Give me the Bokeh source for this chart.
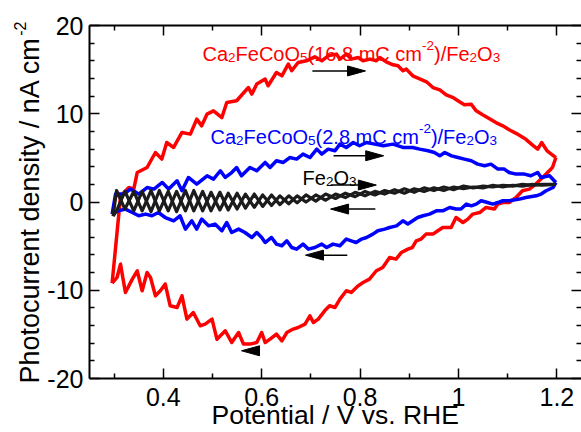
import math
from bokeh.plotting import figure
from bokeh.models import LinearAxis, FixedTicker, Label, Range1d, Title
from bokeh.embed import file_html
from bokeh.resources import INLINE

# ---------------- data ----------------
red_fwd_x = [0.296, 0.313, 0.320, 0.330, 0.340, 0.347, 0.367, 0.384, 0.397, 0.407, 0.421, 0.438, 0.455, 0.468, 0.478,
             0.489, 0.502, 0.519, 0.529, 0.549, 0.573, 0.580, 0.590, 0.607, 0.613, 0.630, 0.641, 0.654, 0.661, 0.674,
             0.691, 0.708, 0.722, 0.735, 0.752, 0.759, 0.772, 0.782, 0.796, 0.806, 0.820, 0.833, 0.840, 0.853, 0.867,
             0.877, 0.887, 0.894, 0.907, 0.921, 0.935, 0.948, 0.962, 0.975, 0.988, 1.002, 1.012, 1.026, 1.036, 1.049,
             1.063, 1.077, 1.090, 1.103, 1.117, 1.137, 1.150, 1.161, 1.169, 1.180, 1.198]
red_fwd_y = [-9.19, 0.59, 1.08, 1.64, 1.46, 3.34, 3.91, 5.61, 4.86, 6.74, 6.18, 7.88, 7.69, 9.39, 8.63,
             9.96, 10.33, 9.57, 11.27, 11.47, 12.97, 12.23, 13.36, 13.93, 13.17, 14.67, 14.30, 15.63, 14.87, 15.81,
             16.00, 16.45, 16.00, 16.57, 16.76, 16.19, 16.76, 16.19, 16.37, 16.00, 16.19, 16.00, 16.37, 15.89, 15.55,
             15.43, 14.87, 15.06, 14.30, 13.96, 13.62, 12.97, 12.71, 12.15, 11.86, 11.35, 11.01, 11.07, 10.33, 9.88,
             9.43, 8.97, 8.63, 8.18, 7.78, 7.10, 6.48, 5.99, 6.74, 5.80, 5.04]
red_rev_x = [1.198, 1.191, 1.181, 1.171, 1.157, 1.144, 1.130, 1.117, 1.103, 1.090, 1.080, 1.073, 1.056, 1.043, 1.029,
             1.019, 1.009, 0.995, 0.985, 0.968, 0.958, 0.948, 0.934, 0.924, 0.914, 0.906, 0.897, 0.884, 0.873, 0.860,
             0.846, 0.833, 0.819, 0.806, 0.796, 0.782, 0.772, 0.759, 0.749, 0.738, 0.728, 0.715, 0.705, 0.698, 0.688,
             0.674, 0.664, 0.651, 0.641, 0.630, 0.617, 0.607, 0.600, 0.590, 0.576, 0.563, 0.553, 0.539, 0.526, 0.509,
             0.499, 0.485, 0.475, 0.461, 0.448, 0.438, 0.428, 0.414, 0.404, 0.394, 0.384, 0.374, 0.367, 0.357, 0.347,
             0.337, 0.323, 0.313, 0.306, 0.296]
red_rev_y = [5.04, 3.91, 3.34, 2.78, 2.03, 1.46, 1.27, 0.51, -0.06, -0.06, -0.24, -0.80, -0.62, -1.19, -1.37,
             -1.94, -2.32, -1.76, -2.89, -2.89, -3.26, -3.64, -3.64, -4.20, -4.40, -5.16, -5.34, -5.72, -6.47, -6.29,
             -7.42, -7.79, -8.74, -9.12, -9.50, -10.25, -10.06, -11.00, -11.95, -11.76, -12.33, -13.27, -13.65, -12.90, -13.84,
             -14.22, -14.40, -14.79, -15.73, -14.97, -15.54, -15.92, -14.79, -15.92, -16.10, -16.10, -14.79, -15.92, -14.59, -15.54,
             -13.27, -13.84, -14.03, -12.52, -13.27, -10.63, -11.95, -11.76, -9.30, -10.06, -10.63, -8.55, -7.99, -10.06, -7.80,
             -8.74, -10.25, -7.04, -8.55, -9.19]

blue_fwd_x = [0.296, 0.303, 0.320, 0.333, 0.350, 0.367, 0.381, 0.398, 0.411, 0.428, 0.438, 0.451, 0.468, 0.489, 0.502,
              0.516, 0.526, 0.539, 0.549, 0.559, 0.576, 0.590, 0.607, 0.617, 0.630, 0.644, 0.657, 0.671, 0.684, 0.698,
              0.712, 0.722, 0.735, 0.749, 0.759, 0.772, 0.786, 0.799, 0.813, 0.830, 0.847, 0.867, 0.887, 0.907, 0.921,
              0.938, 0.951, 0.962, 0.972, 0.986, 0.999, 1.012, 1.026, 1.039, 1.053, 1.066, 1.080, 1.093, 1.103, 1.117,
              1.134, 1.147, 1.161, 1.168, 1.185, 1.198]
blue_fwd_y = [-1.37, 0.90, 0.90, 1.46, 0.90, 1.64, 1.46, 2.21, 1.46, 2.40, 1.27, 2.78, 2.03, 2.97, 2.59,
              3.54, 2.78, 3.34, 3.91, 2.97, 3.91, 3.54, 4.48, 3.91, 4.67, 4.48, 5.04, 4.86, 5.43, 5.04,
              5.99, 5.43, 5.99, 5.80, 6.56, 6.18, 6.74, 6.37, 6.74, 6.56, 6.37, 6.56, 6.18, 6.18, 5.99,
              5.80, 5.61, 5.23, 5.61, 5.23, 5.04, 4.86, 4.67, 4.29, 4.10, 4.29, 3.73, 3.73, 3.34, 3.16,
              3.16, 2.97, 3.34, 2.78, 2.97, 2.21]
blue_rev_x = [1.198, 1.192, 1.178, 1.168, 1.158, 1.137, 1.124, 1.103, 1.090, 1.080, 1.070, 1.059, 1.046, 1.036, 1.026,
              1.016, 1.005, 0.995, 0.982, 0.968, 0.955, 0.941, 0.928, 0.917, 0.907, 0.897, 0.887, 0.874, 0.860, 0.850,
              0.836, 0.826, 0.813, 0.803, 0.792, 0.782, 0.772, 0.759, 0.745, 0.732, 0.722, 0.708, 0.695, 0.684, 0.671,
              0.661, 0.651, 0.641, 0.630, 0.620, 0.607, 0.600, 0.590, 0.580, 0.566, 0.553, 0.539, 0.529, 0.519, 0.505,
              0.492, 0.478, 0.468, 0.458, 0.445, 0.434, 0.421, 0.404, 0.390, 0.377, 0.364, 0.350, 0.337, 0.323, 0.309,
              0.299, 0.296]
blue_rev_y = [2.21, 1.64, 1.27, 0.90, 0.70, 0.51, 0.33, 0.14, 0.14, -0.06, -0.24, -0.06, 0.14, -0.24, -0.43,
              -0.24, -0.80, -0.80, -0.62, -1.00, -1.00, -1.37, -1.56, -1.76, -2.13, -2.50, -2.13, -2.70, -2.89, -3.07,
              -3.26, -3.64, -4.02, -4.20, -4.59, -4.40, -4.20, -4.96, -4.77, -5.16, -4.77, -5.16, -5.34, -4.77, -5.34,
              -5.16, -4.40, -4.96, -4.77, -4.02, -4.59, -4.02, -3.46, -4.02, -3.46, -3.07, -3.46, -2.32, -3.26, -2.50,
              -2.70, -1.94, -3.07, -2.13, -3.07, -1.56, -2.13, -1.76, -1.19, -1.56, -1.37, -1.56, -1.19, -0.80, -1.00,
              -1.19, -1.37]

black_x = [0.298, 0.305, 0.322, 0.340, 0.357, 0.375, 0.392, 0.410, 0.427, 0.445, 0.462, 0.480, 0.497, 0.515, 0.532,
           0.550, 0.567, 0.585, 0.602, 0.620, 0.637, 0.655, 0.672, 0.690, 0.710, 0.730, 0.750, 0.770, 0.790, 0.810,
           0.830, 0.850, 0.870, 0.890, 0.910, 0.930, 0.950, 0.970, 0.990, 1.010, 1.030, 1.050, 1.070, 1.090, 1.110,
           1.130, 1.150, 1.170, 1.198]
black_fwd_y = [-1.6, 1.3, -0.8, 1.2, -1.0, 1.3, -1.0, 1.2, -1.1, 1.3, -1.0, 1.2, -1.0, 1.1, -0.9,
               1.0, -0.7, 0.9, -0.5, 0.8, -0.3, 0.7, -0.1, 0.8, 0.1, 0.9, 0.4, 1.0, 0.6, 1.2,
               0.8, 1.3, 1.0, 1.5, 1.1, 1.6, 1.3, 1.7, 1.4, 1.8, 1.6, 1.8, 1.7, 1.9, 1.8,
               2.0, 1.9, 2.0, 2.0]
black_rev_y = [-1.6, -1.0, 1.2, -1.0, 1.2, -1.1, 1.3, -1.0, 1.2, -1.0, 1.3, -1.0, 1.1, -0.9, 1.0,
               -0.8, 0.9, -0.6, 0.8, -0.4, 0.7, -0.2, 0.7, 0.0, 0.8, 0.2, 0.9, 0.5, 1.1, 0.7,
               1.2, 0.9, 1.4, 1.0, 1.5, 1.2, 1.6, 1.3, 1.7, 1.5, 1.7, 1.6, 1.9, 1.7, 1.9,
               1.8, 2.0, 1.9, 2.0]

# scan-direction arrows: tail x, tip x, y
arrow_tail_x = [0.703, 0.746, 0.740, 0.831, 0.774, 0.595]
arrow_tip_x = [0.811, 0.848, 0.833, 0.740, 0.689, 0.559]
arrow_y = [14.85, 5.24, 1.92, -0.80, -6.02, -16.86]

x_major = [0.4, 0.6, 0.8, 1.0, 1.2]
x_minor = [0.3, 0.5, 0.7, 0.9, 1.1]
y_major = [-20, -10, 0, 10, 20]
y_minor = [-18, -16, -14, -12, -8, -6, -4, -2, 2, 4, 6, 8, 12, 14, 16, 18]
x_labels = {0.4: "0.4", 0.6: "0.6", 0.8: "0.8", 1.0: "1", 1.2: "1.2"}
y_labels = {-20: "-20", -10: "-10", 0: "0", 10: "10", 20: "20"}

# label anchors (data coords)
red_lab = (0.4797, 16.72)
blue_lab = (0.496, 7.39)
fe_lab = (0.683, 2.67)

X_TITLE = "Potential / V vs. RHE"
Y_TITLE = "Photocurrent density / nA cm"
Y_TITLE_SUP = "-2"

# ---------------- figure ----------------
FONT = "Liberation Sans"
W = {' ': 278, '(': 333, ')': 333, '-': 333, '.': 278, '/': 278, 'A': 667, 'C': 722, 'E': 667, 'F': 611,
     'H': 722, 'O': 778, 'P': 667, 'R': 722, 'V': 667, 'a': 556, 'c': 500, 'd': 556, 'e': 556, 'h': 556,
     'i': 222, 'l': 222, 'm': 833, 'n': 556, 'o': 556, 'r': 333, 's': 500, 't': 278, 'u': 556, 'v': 500,
     'y': 500}
for _d in "0123456789":
    W[_d] = 556


def tw(s, size):
    return sum(W.get(c, 556) for c in s) * size / 1000.0


p = figure(width=581, height=432, x_range=Range1d(0.25, 1.25), y_range=Range1d(-20, 20),
           output_backend="svg", toolbar_location=None,
           min_border_left=89, min_border_right=0, min_border_top=25, min_border_bottom=54)
p.grid.visible = False
p.outline_line_color = None
p.background_fill_color = "white"
p.border_fill_color = "white"


def style_axis(ax, major, minor, labels=None):
    ax.ticker = FixedTicker(ticks=major, minor_ticks=minor)
    ax.axis_line_width = 2
    ax.axis_line_color = "black"
    ax.major_tick_in = 10
    ax.major_tick_out = 0
    ax.minor_tick_in = 5
    ax.minor_tick_out = 0
    ax.major_tick_line_width = 1.5
    ax.minor_tick_line_width = 1.5
    ax.major_tick_line_color = "black"
    ax.minor_tick_line_color = "black"
    ax.major_label_text_font = FONT
    ax.major_label_text_color = "black"
    if labels is not None:
        ax.major_label_text_font_size = "25px"
        ax.major_label_overrides = labels
    else:
        ax.major_label_text_font_size = "1px"
        ax.major_label_standoff = 0
        ax.major_label_overrides = {t: "" for t in major}


style_axis(p.xaxis[0], x_major, x_minor, x_labels)
p.xaxis[0].major_label_standoff = 9

style_axis(p.yaxis[0], y_major, y_minor, y_labels)
p.yaxis[0].major_label_standoff = 6

top = LinearAxis()
style_axis(top, x_major, x_minor)
p.add_layout(top, "above")
right = LinearAxis()
style_axis(right, y_major, y_minor)
right.axis_line_color = None
p.add_layout(right, "right")

# x title below the tick labels (kept fully inside the canvas)
t_x = Title(text=X_TITLE, align="left", vertical_align="bottom", offset=122, standoff=-22, text_font=FONT,
            text_font_size="26.5px", text_font_style="normal", text_color="black")
p.add_layout(t_x, "below")

# y title (main text + raised "-2") in the left side panel
main_size = 27
t_main = Title(text=Y_TITLE, align="left", offset=-5, standoff=0, text_font=FONT,
               text_font_size=f"{main_size}px", text_font_style="normal", text_color="black")
p.add_layout(t_main, "left")
t_sup = Title(text=Y_TITLE_SUP, align="left", offset=-5 + tw(Y_TITLE, main_size) + 1, standoff=-26,
              text_font=FONT, text_font_size="16px", text_font_style="normal", text_color="black")
p.add_layout(t_sup, "left")

# curves
p.line(red_fwd_x, red_fwd_y, line_color="#ff0000", line_width=3.5, line_join="round")
p.line(red_rev_x, red_rev_y, line_color="#ff0000", line_width=3.5, line_join="round")
p.line(blue_fwd_x, blue_fwd_y, line_color="#0000ff", line_width=3.5, line_join="round")
p.line(blue_rev_x, blue_rev_y, line_color="#0000ff", line_width=3.5, line_join="round")
p.line(black_x, black_fwd_y, line_color="#1c1c1c", line_width=3.2, line_join="round")
p.line(black_x, black_rev_y, line_color="#1c1c1c", line_width=3.2, line_join="round")

# arrows
px_x = 1.0 / 492.0
px_y = 40.0 / 353.0
head_len = 18 * px_x
head_hw = 5 * px_y
sx0, sx1, sy, hxs, hys = [], [], [], [], []
for xt, xh, yy in zip(arrow_tail_x, arrow_tip_x, arrow_y):
    d = 1 if xh > xt else -1
    base = xh - d * head_len
    sx0.append(xt)
    sx1.append(base)
    sy.append(yy)
    hxs.append([xh, base, base])
    hys.append([yy, yy + head_hw, yy - head_hw])
p.segment(x0=sx0, y0=sy, x1=sx1, y1=sy, line_color="black", line_width=1.5)
p.patches(hxs, hys, fill_color="black", line_color="black", line_width=1)


def rich(x, y, parts, color, size, small, sub_drop, sup_rise):
    off = 0.0
    for txt, kind in parts:
        fs = size if kind == "n" else small
        shift = 0.0 if kind == "n" else (-sub_drop if kind == "sub" else sup_rise)
        p.add_layout(Label(x=x, y=y, x_offset=off, y_offset=shift, text=txt, text_font=FONT,
                           text_font_size=f"{fs}px", text_color=color, text_align="left",
                           text_baseline="alphabetic"))
        off += tw(txt, fs)


rich(red_lab[0], red_lab[1],
     [("Ca", "n"), ("2", "sub"), ("FeCoO", "n"), ("5", "sub"), ("(16.8 mC cm", "n"), ("-2", "sup"),
      (")/Fe", "n"), ("2", "sub"), ("O", "n"), ("3", "sub")], "#ff0000", 20, 13.5, 3.5, 8.5)
rich(blue_lab[0], blue_lab[1],
     [("Ca", "n"), ("2", "sub"), ("FeCoO", "n"), ("5", "sub"), ("(2.8 mC cm", "n"), ("-2", "sup"),
      (")/Fe", "n"), ("2", "sub"), ("O", "n"), ("3", "sub")], "#0000ff", 20, 13.5, 3.5, 8.5)
rich(fe_lab[0], fe_lab[1],
     [("Fe", "n"), ("2", "sub"), ("O", "n"), ("3", "sub")], "#000000", 20, 13.5, 3.5, 8.5)

open("out.html", "w").write(file_html(p, INLINE))
